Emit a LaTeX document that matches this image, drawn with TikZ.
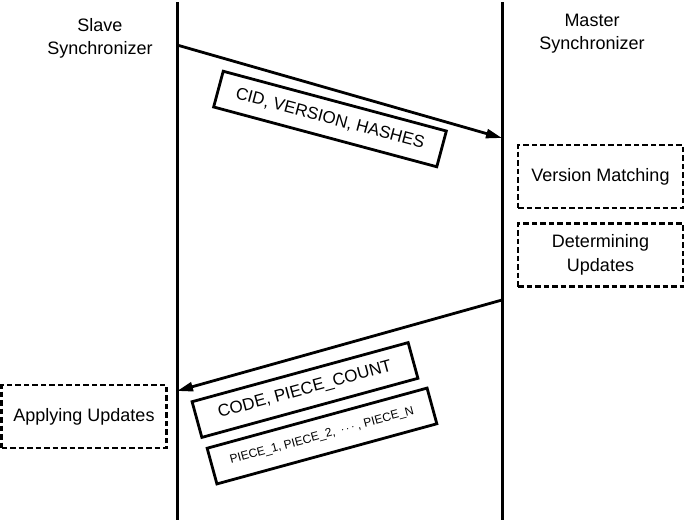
\documentclass[tikz,border=0pt]{standalone}
\usepackage{fontspec}
\setmainfont{Liberation Sans}
\usetikzlibrary{arrows.meta}
\begin{document}
\begin{tikzpicture}[x=1pt,y=-1pt,
  lifeline/.style={line width=3pt},
  msg/.style={line width=2.8pt,-{Triangle[length=16pt,width=9pt]}},
  msgbox/.style={draw,line width=2.8pt,minimum height=37pt,inner sep=0pt,fill=white,font=\fontsize{17}{20}\selectfont},
  task/.style={draw,line width=2.8pt,dash pattern=on 5.5pt off 3pt,minimum width=165pt,minimum height=63pt,inner sep=0pt,align=center,font=\fontsize{18}{24}\selectfont},
  actor/.style={align=center,font=\fontsize{18}{23}\selectfont}]
\useasboundingbox (0,0) rectangle (685,520);
% lifelines
\coordinate (sTop) at (177,2);
\coordinate (sBot) at (177,520);
\coordinate (mTop) at (502,2);
\coordinate (mBot) at (502,520);
\draw[lifeline] (sTop) -- (sBot);
\draw[lifeline] (mTop) -- (mBot);
% actors
\node[actor] (slave) at (100,38) {Slave\\Synchronizer};
\node[actor] (master) at (592,34) {Master\\Synchronizer};
% message 1
\coordinate (m1s) at (177,45);
\coordinate (m1e) at (502,138);
\draw[msg] (m1s) -- (m1e);
\node[msgbox,rotate=-15,minimum width=231pt] (b1) at (330,119) {CID, VERSION, HASHES};
% tasks
\node[task] (vm) at (600.5,176.5) {Version Matching};
\node[task] (du) at (600.5,255) {Determining\\Updates};
\node[task] (au) at (84,416.5) {Applying Updates};
% message 2
\coordinate (m2s) at (502,300);
\coordinate (m2e) at (177,391);
\draw[msg] (m2s) -- (m2e);
\node[msgbox,rotate=15.3,minimum width=224pt] (b2) at (305,390) {CODE, PIECE\_COUNT};
\node[msgbox,rotate=15.3,minimum width=228pt,font=\fontsize{12}{14}\selectfont] (b3) at (322,436) {PIECE\_1, PIECE\_2,\enspace$\cdots$ , PIECE\_N};
\end{tikzpicture}
\end{document}
